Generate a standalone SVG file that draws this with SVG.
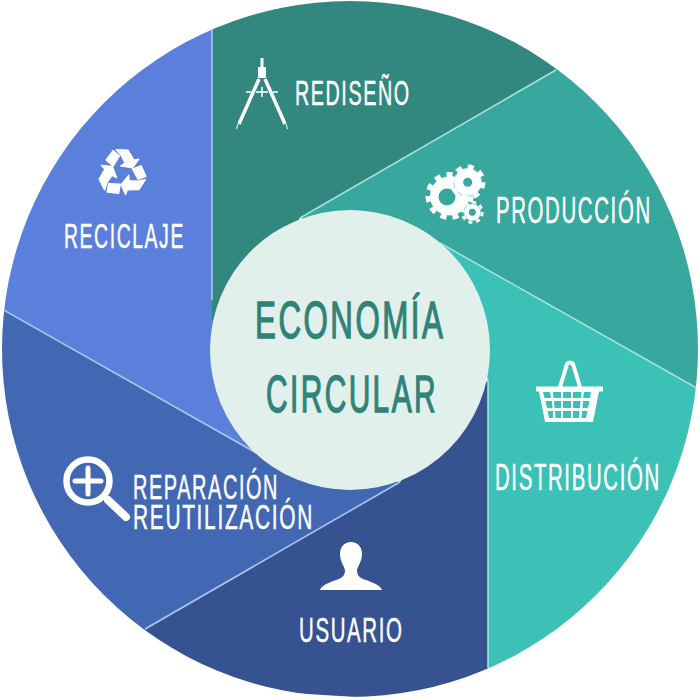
<svg xmlns="http://www.w3.org/2000/svg" width="700" height="700" viewBox="0 0 700 700">
<style>
.t{font-family:"Liberation Sans",Arial,sans-serif;fill:#fff;stroke:#fff;stroke-width:.5;font-size:36px;letter-spacing:.08em}
.c{font-family:"Liberation Sans",Arial,sans-serif;fill:#2f8378;stroke:#2f8378;stroke-width:1.4;font-size:52px;letter-spacing:.08em}
.w{fill:#fff}
.ws{stroke:#fff;fill:none}
.r{fill:#fff;stroke:#fff;stroke-width:1.200;stroke-linejoin:round}
.lb{stroke:#a9c7ee;stroke-width:1.6;fill:none}
.lt{stroke:#a3e2da;stroke-width:1.6;fill:none}
</style>
<defs>
<clipPath id="disc"><circle cx="350" cy="349" r="348"/></clipPath>
<g id="arr">
<polygon points="-16,-13 -9,-22.500 -2.500,-17 -8.700,-7"/>
<polygon points="-6,-23.500 6,-23 12,-13 17,-14 10.500,-5 -1.500,-7 3,-10 -1,-18"/>
</g>
</defs>
<rect width="700" height="700" fill="#fff"/>
<g id="wedges" clip-path="url(#disc)">
<polygon id="wedge-rediseno" fill="#32887f" points="212,-5 685,-5 300,218 212,340"/>
<polygon id="wedge-produccion" fill="#38a79d" points="300,218 705,-17 705,392 440,243"/>
<polygon id="wedge-distribucion" fill="#3cc1b6" points="440,243 705,392 705,705 488,705 488,380"/>
<polygon id="wedge-usuario" fill="#365291" points="488,380 488,705 60,679 400,482"/>
<polygon id="wedge-reparacion" fill="#4268b3" points="400,482 60,679 -5,679 -5,305 260,455"/>
<polygon id="wedge-reciclaje" fill="#5b80db" points="260,455 -5,305 -5,-5 212,-5 212,340"/>
</g>
<g id="connectors" clip-path="url(#disc)">
<path class="lb" d="M212,0V300"/>
<path class="lt" d="M556,70L300,218"/>
<path class="lt" d="M700,390L440,243"/>
<path class="lt" d="M488,668V380"/>
<path class="lb" d="M145,629L400,482"/>
<path class="lb" d="M0,308L260,455"/>
</g>
<g id="centro">
<circle cx="350" cy="350" r="140" fill="#e2f0ec"/>
<text class="c" transform="translate(255 338) scale(.602 1)">ECONOMÍA</text>
<text class="c" transform="translate(266 411.500) scale(.575 1)">CIRCULAR</text>
</g>
<g id="rediseno">
<path class="w" d="M260.500,58h3v9h-3zM258,67h8v11h-8z"/>
<path class="ws" stroke-width="3.500" d="M259,79L239,124M265,79L285,124"/>
<path class="ws" stroke-width="1" d="M238,124l-1.500,5M286,124l1.500,5"/>
<path class="ws" stroke-width="1.500" d="M246,92h5M273,92h5M256,92h12M262,87v10"/>
<text class="t" transform="translate(295 105) scale(.548 1)">REDISEÑO</text>
</g>
<g id="produccion">
<circle class="w" cx="449.500" cy="196" r="19.500"/>
<circle cx="449.500" cy="196" r="21.500" fill="none" stroke="#fff" stroke-width="5" pathLength="22" stroke-dasharray="1 1"/>
<circle cx="447" cy="197" r="8.500" fill="#38a79d"/>
<circle cx="467.700" cy="182.300" r="14" fill="#fff" stroke="#8fd4cc" stroke-width="1"/>
<circle cx="467.700" cy="182.300" r="15.500" fill="none" stroke="#fff" stroke-width="4.500" pathLength="16" stroke-dasharray="1 1"/>
<circle cx="467.700" cy="182.300" r="4.500" fill="#38a79d"/>
<circle cx="472.300" cy="212.300" r="8.500" fill="#fff" stroke="#8fd4cc" stroke-width="1"/>
<circle cx="472.300" cy="212.300" r="10" fill="none" stroke="#fff" stroke-width="3" pathLength="16" stroke-dasharray="1 1"/>
<circle cx="472.300" cy="212.300" r="3.500" fill="#38a79d"/>
<text class="t" transform="translate(496 223) scale(.567 1)">PRODUCCIÓN</text>
</g>
<g id="distribucion">
<path class="ws" stroke-width="4" stroke-linejoin="round" d="M560,387L567,364Q570,361 573,364L580,387"/>
<path class="w" fill-rule="evenodd" d="M536,386.500H603V391.500H599L593,422H545L539,391.500H536ZM543,392L544.500,398H551L550,392ZM553,392L553.500,398H561V392ZM563,392V398H571V392ZM573,392V398H581L581.500,392ZM584,392L583,398H590L591,392ZM545.500,401L547,408H552.500L552,401ZM554,401L554.500,408H561V401ZM563,401V408H571V401ZM573,401V408H580L580.500,401ZM583,401L582.500,408H588L589.500,401ZM547.500,411L549,418H553L553,411ZM555,411L555.500,418H561V411ZM563,411V418H571V411ZM573,411V418H579L579.500,411ZM582,411L581.500,418H586L587.500,411Z"/>
<text class="t" transform="translate(495 490) scale(.567 1)">DISTRIBUCIÓN</text>
</g>
<g id="usuario">
<path class="w" d="M351,542C344,542 340,547 340,554C340,561 344,566 345,570C345,575 343,578 336,580C328,583 322,585 320,590H382C380,585 374,583 366,580C359,578 357,575 357,570C358,566 362,561 362,554C362,547 358,542 351,542Z"/>
<text class="t" transform="translate(299 642) scale(.568 1)">USUARIO</text>
</g>
<g id="reparacion">
<circle class="ws" cx="88" cy="481" r="21.500" stroke-width="6.500"/>
<path class="ws" stroke-width="5" stroke-linecap="round" d="M75,481H101M88,468V494"/>
<path class="ws" stroke-width="8" stroke-linecap="round" d="M108,500L126,517"/>
<text class="t" transform="translate(133 499) scale(.553 1)">REPARACIÓN</text>
<text class="t" transform="translate(133 529) scale(.581 1)">REUTILIZACIÓN</text>
</g>
<g id="reciclaje">
<use href="#arr" class="r" transform="translate(122 173)"/>
<use href="#arr" class="r" transform="translate(122 173) rotate(120)"/>
<use href="#arr" class="r" transform="translate(122 173) rotate(240)"/>
<text class="t" transform="translate(64 248) scale(.54 1)">RECICLAJE</text>
</g>
</svg>
